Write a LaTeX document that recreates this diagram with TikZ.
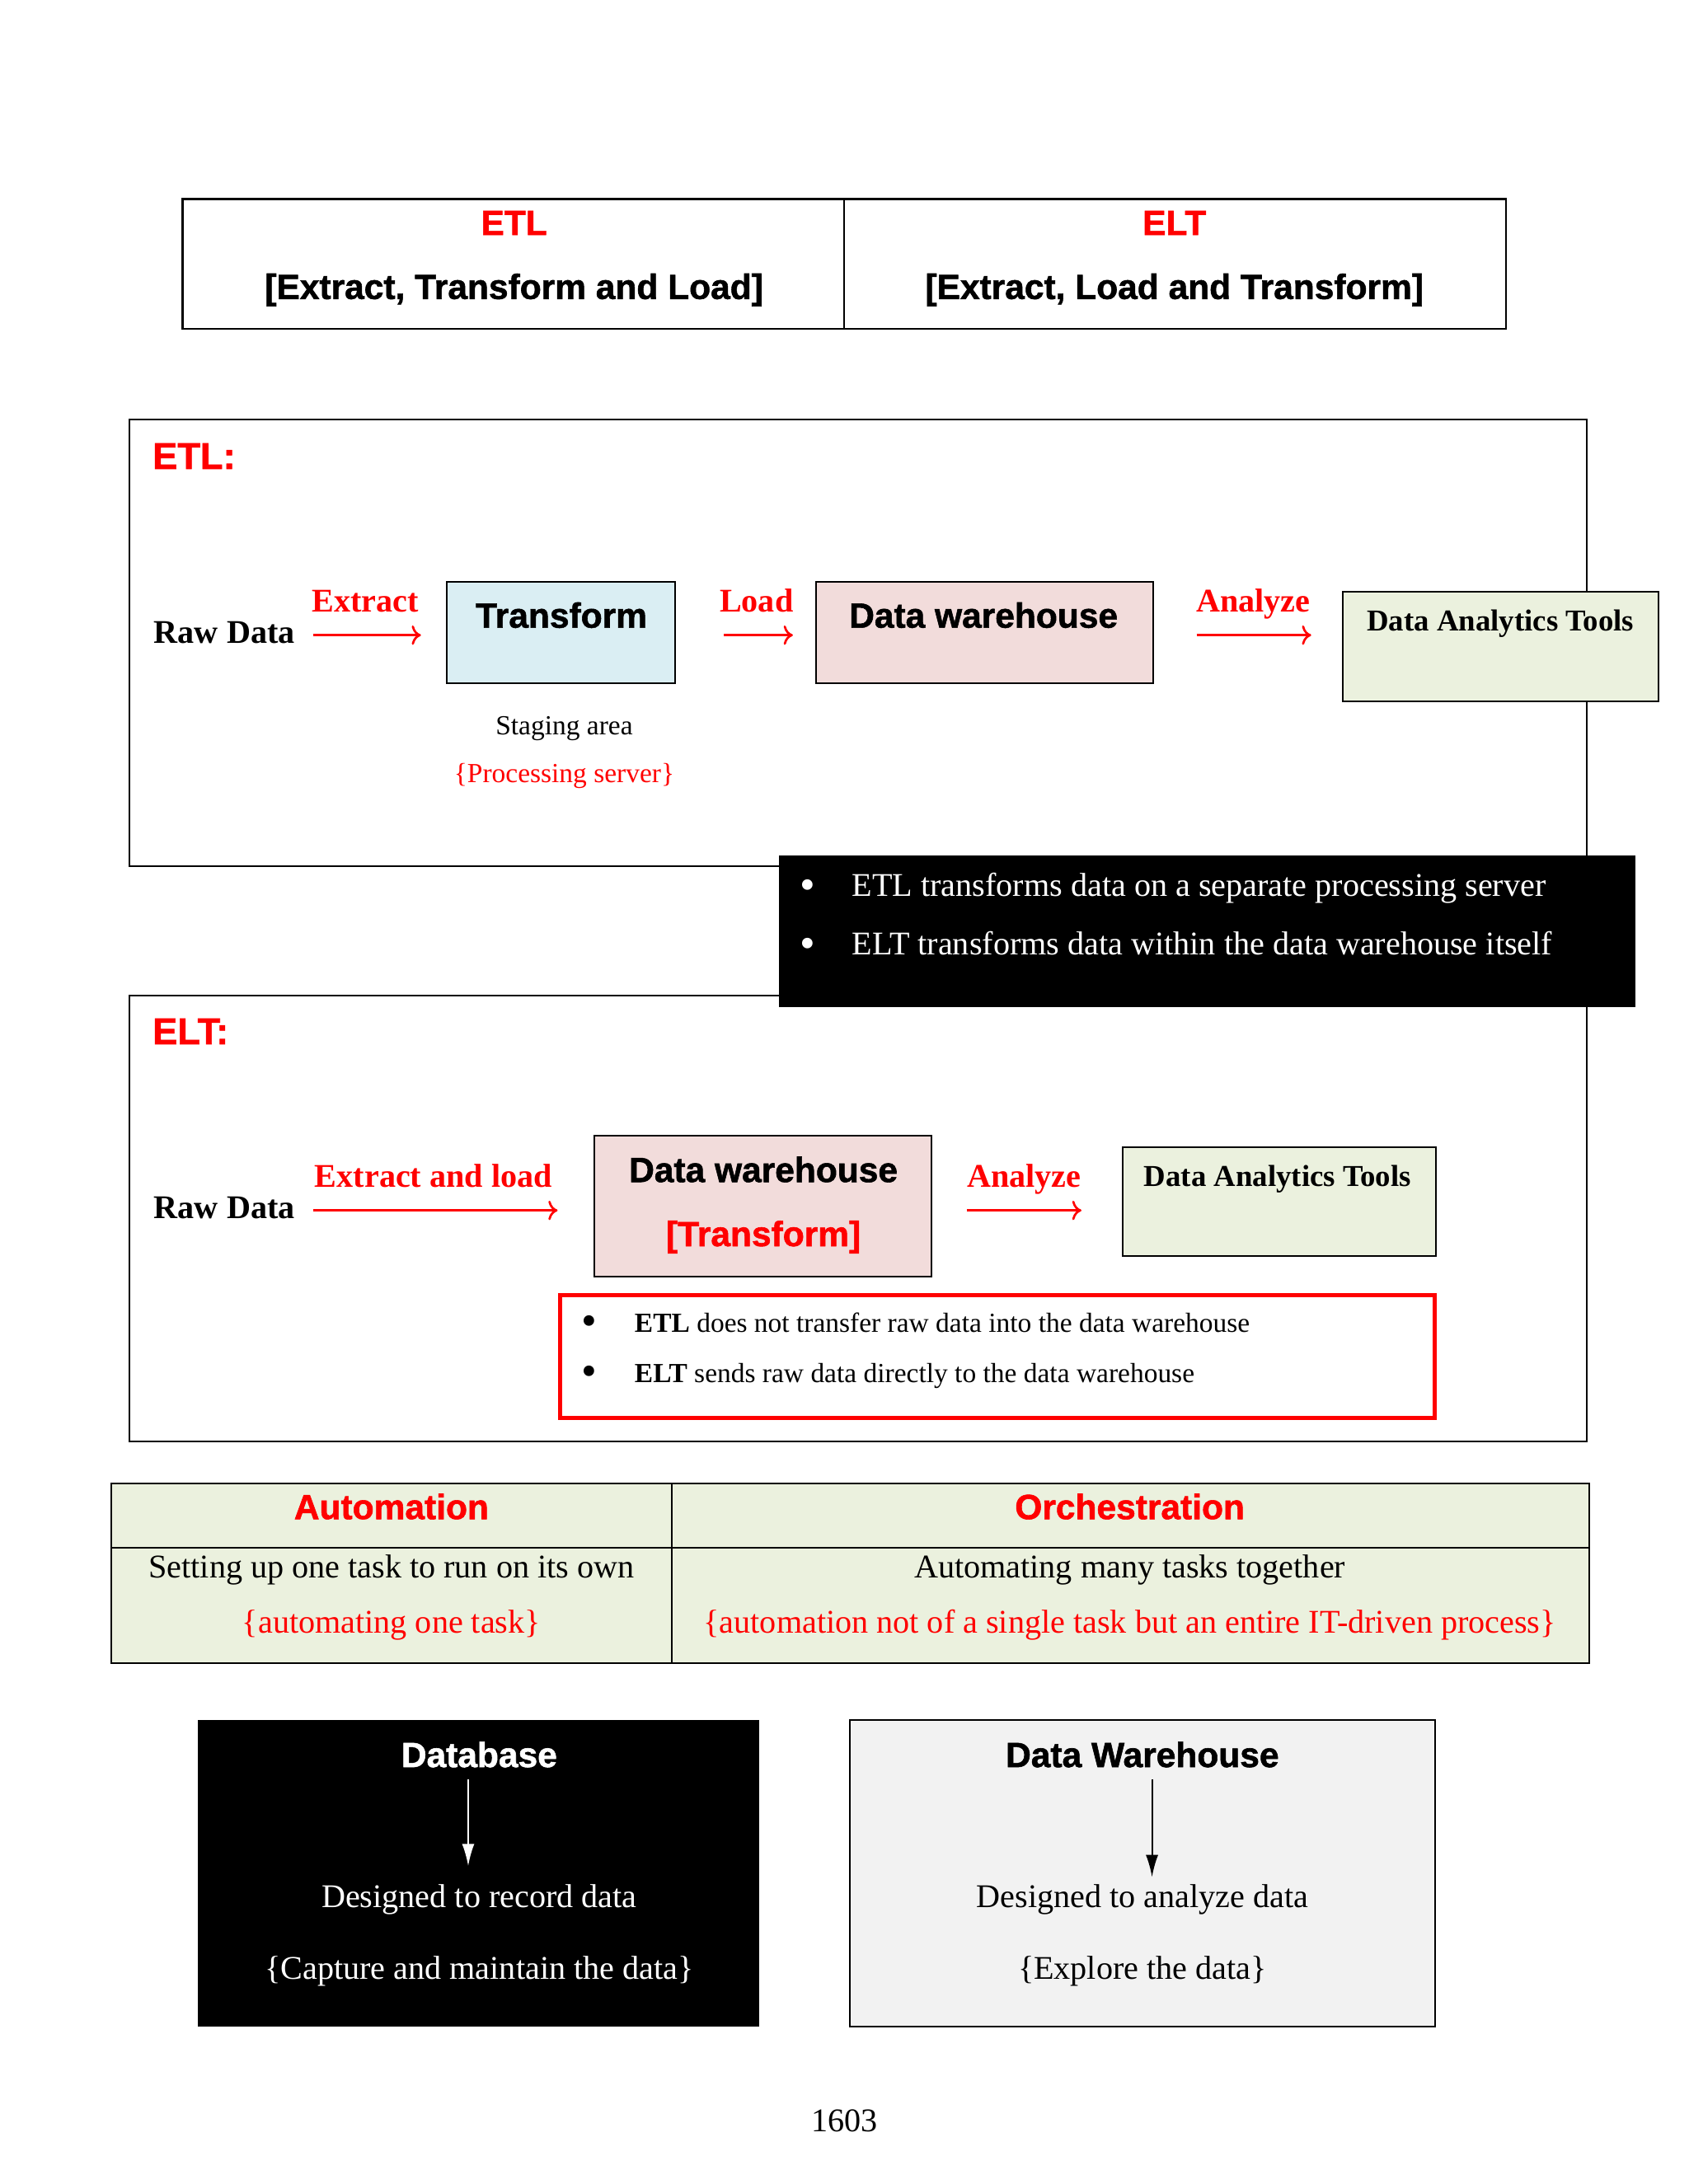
\documentclass[tikz,border=0pt]{standalone}
\usepackage{fontspec}
\setmainfont{Liberation Serif}
\newfontfamily\headfont{Liberation Sans}[BoldFeatures={FakeBold=1.3}]
\usetikzlibrary{calc,arrows.meta}
\definecolor{stagecol}{HTML}{DAEEF3}
\definecolor{whcol}{HTML}{F2DCDB}
\definecolor{toolcol}{HTML}{EBF1DE}
\definecolor{dwgray}{HTML}{F2F2F2}
\newcommand{\bul}{{\fontsize{16}{16}\selectfont\raisebox{-.15ex}{•}}}

\begin{document}
\begin{tikzpicture}[x=0.505pt, y=-0.505pt, line width=0.6pt, % 1単位=0.505pt、y軸は下向き
  headtxt/.style={font=\headfont\bfseries\fontsize{#1}{#1}\selectfont, text height=1.5ex, text depth=.25ex, inner sep=0pt, yshift=-1.5pt},
  headtxt/.default=12.7,
  bodytxt/.style={font=\fontsize{#1}{#1}\selectfont, text height=1.5ex, text depth=.25ex, inner sep=0pt},
  bodytxt/.default=12,
  box/.style={draw, inner sep=0pt, anchor=north west},
  redarr/.style={red, thick, ->},
  lbl/.style={bodytxt, red, font=\bfseries\fontsize{12}{12}\selectfont, above=7pt},
  tiparr/.style={-{Latex[length=8pt,width=4.5pt]}}]
  \fill[white] (0,0) rectangle (1212,1568); % 背景
  \useasboundingbox (0,0) rectangle (1212,1568);

  % 上の表
  \draw[line width=0.8pt] (131,143) rectangle (1081,236);
  \draw (606,143) -- (606,236); % 区切り線
  \node[headtxt, red] (etlH) at (369,160) {ETL};
  \node[headtxt] (etlS) at (369,206) {[Extract, Transform and Load]};
  \node[headtxt, red] (eltH) at (843,160) {ELT};
  \node[headtxt] (eltS) at (843,206) {[Extract, Load and Transform]};

  % 枠
  \draw (93,301) rectangle (1139,622); % ETLの枠
  \draw (93,715) rectangle (1139,1035); % ELTの枠

  % ETL
  \node[headtxt=13.5, red, anchor=west] (etlT) at (109,328) {ETL:};
  \node[bodytxt, anchor=west] (rawA) at (110,456) {\textbf{Raw Data}};
  \node[box, fill=stagecol, minimum width=82.8pt, minimum height=36.9pt] (trans) at (320,417) {};
  \node[headtxt] (transT) at (403,442) {Transform};
  \node[box, fill=whcol, minimum width=122.2pt, minimum height=36.9pt] (dwA) at (585,417) {};
  \node[headtxt] (dwAT) at (706,442) {Data warehouse};
  \node[box, fill=toolcol, minimum width=114.6pt, minimum height=39.9pt] (datA) at (963,424) {};
  \node[bodytxt=11] (datAT) at (1077,447) {\textbf{Data Analytics Tools}};
  \node[bodytxt=10] (stage) at (405,522) {Staging area};
  \node[bodytxt=10, red] (procS) at (405,556) {\{Processing server\}};
  \draw[redarr, shorten <=6.5pt, shorten >=9pt] (rawA.east) -- node[lbl, xshift=-2pt] {Extract} (rawA.east -| trans.west);
  \draw[redarr, shorten <=17.5pt, shorten >=8pt] (rawA.east -| trans.east) -- node[lbl, xshift=4pt] {Load} (rawA.east -| dwA.west);
  \draw[redarr, shorten <=15.5pt, shorten >=11pt] (rawA.east -| dwA.east) -- node[lbl, xshift=2pt] {Analyze} (rawA.east -| datA.west);

  % 黒い箱（枠の上に重ねる）
  \fill (559,614) rectangle (1174,723);
  \node[bodytxt, white] (bulA) at (580,638) {\bul};
  \node[bodytxt, white, anchor=west] (noteA) at (611,638) {ETL transforms data on a separate processing server};
  \node[bodytxt, white] (bulB) at (580,680) {\bul};
  \node[bodytxt, white, anchor=west] (noteB) at (611,680) {ELT transforms data within the data warehouse itself};

  % ELT
  \node[headtxt=13.5, red, anchor=west] (eltT) at (109,741) {ELT:};
  \node[bodytxt, anchor=west] (rawB) at (110,869) {\textbf{Raw Data}};
  \node[box, fill=whcol, minimum width=122.2pt, minimum height=51pt] (dwB) at (426,815) {};
  \node[headtxt] (dwBT) at (548,840) {Data warehouse};
  \node[headtxt, red] (dwBX) at (548,886) {[Transform]};
  \node[box, fill=toolcol, minimum width=113.6pt, minimum height=39.4pt] (datB) at (805,823) {};
  \node[bodytxt=11] (datBT) at (917,846) {\textbf{Data Analytics Tools}};
  \draw[redarr, shorten <=6.5pt, shorten >=13pt] (rawB.east) -- node[lbl, xshift=-4pt] {Extract and load} (rawB.east -| dwB.west);
  \draw[redarr, shorten <=12.5pt, shorten >=14.5pt] (rawB.east -| dwB.east) -- node[lbl, xshift=-1pt] {Analyze} (rawB.east -| datB.west);
  \draw[red, line width=1.5pt] (402,930) rectangle (1030,1018); % 赤枠
  \node[bodytxt=10] (bulC) at (423,951) {\bul};
  \node[bodytxt=10, anchor=west] (noteC) at (455,951) {\textbf{ETL} does not transfer raw data into the data warehouse};
  \node[bodytxt=10] (bulD) at (423,987) {\bul};
  \node[bodytxt=10, anchor=west] (noteD) at (455,987) {\textbf{ELT} sends raw data directly to the data warehouse};

  % Automation / Orchestration の表
  \draw[fill=toolcol] (80,1065) rectangle (1141,1194);
  \draw (80,1111) -- (1141,1111);
  \draw (482,1065) -- (482,1194);
  \node[headtxt, red] (autoH) at (281,1082) {Automation};
  \node[headtxt, red] (orchH) at (811,1082) {Orchestration};
  \node[bodytxt] (autoA) at (281,1127) {Setting up one task to run on its own};
  \node[bodytxt, red] (autoB) at (281,1167) {\{automating one task\}};
  \node[bodytxt] (orchA) at (811,1127) {Automating many tasks together};
  \node[bodytxt, red] (orchB) at (811,1167) {\{automation not of a single task but an entire IT-driven process\}};

  % Database と Data Warehouse
  \fill (142,1235) rectangle (545,1455);
  \node[headtxt, white] (dbT) at (344,1260) {Database};
  \node[bodytxt, white] (dbD) at (344,1364) {Designed to record data};
  \node[bodytxt, white] (dbE) at (344,1415) {\{Capture and maintain the data\}};
  \draw[white, tiparr, shorten <=3pt, shorten >=8pt] ([xshift=-4pt]dbT.south) -- ([xshift=-4pt]dbD.north);
  \draw[fill=dwgray] (610,1235) rectangle (1030,1455);
  \node[headtxt] (dwT) at (820,1260) {Data Warehouse};
  \node[bodytxt] (dwD) at (820,1364) {Designed to analyze data};
  \node[bodytxt] (dwE) at (820,1415) {\{Explore the data\}};
  \draw[tiparr, shorten <=3pt, shorten >=4pt] ([xshift=3.5pt]dwT.south) -- ([xshift=3.5pt]dwD.north);

  \node[bodytxt] (pageN) at (606,1525) {1603}; % ページ番号
\end{tikzpicture}
\end{document}
